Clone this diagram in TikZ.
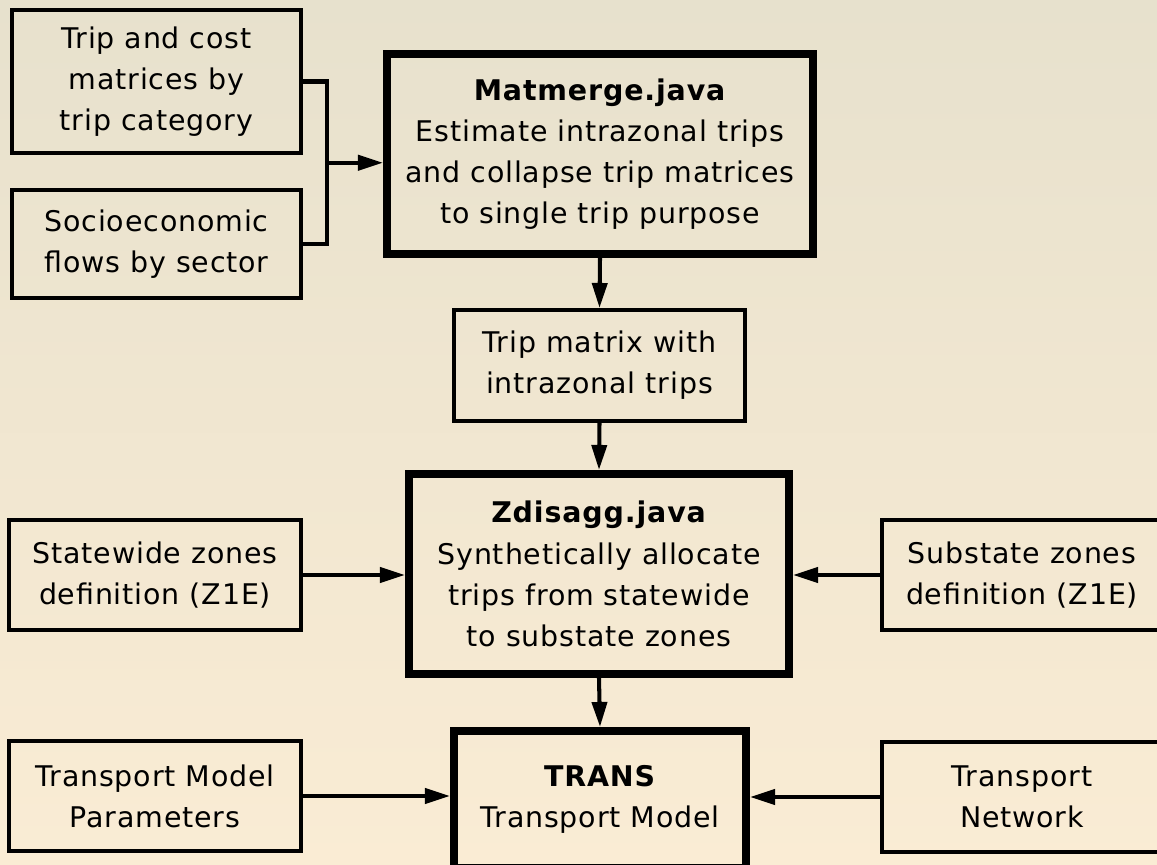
\documentclass[tikz,border=0pt]{standalone}
\usepackage{fontspec}
\setmainfont{DejaVu Sans}[LetterSpace=3]
\usetikzlibrary{calc,arrows.meta}
\definecolor{bgtop}{RGB}{231,225,205}
\definecolor{bgbot}{RGB}{250,236,212}

\begin{document}
\begin{tikzpicture}[
  box/.style={draw, rectangle, line width=2.3pt, inner sep=0pt, align=center, font=\fontsize{16.2}{23.4}\selectfont},
  bigbox/.style={box, line width=4.3pt},
  conn/.style={line width=2.3pt},
  arr/.style={conn, -{Triangle[length=0.5cm,width=0.3cm]}}
]
  \useasboundingbox (0,0) rectangle (23.14,17.3);
  \fill[top color=bgtop, bottom color=bgbot] (0,0) rectangle (23.14,17.3);

  % inputs of Matmerge
  \node[box, minimum width=5.78cm, minimum height=2.86cm] (tc) at (3.13,15.67) {Trip and cost\\matrices by\\trip category};
  \node[box, minimum width=5.78cm, minimum height=2.16cm] (se) at (3.13,12.42) {Socioeconomic\\flows by sector};

  % Matmerge
  \node[bigbox, minimum width=8.53cm, minimum height=4.01cm] (mm) at (12.0,14.22) {\textbf{Matmerge.java}\\Estimate intrazonal trips\\and collapse trip matrices\\to single trip purpose};

  % trip matrix
  \node[box, minimum width=5.82cm, minimum height=2.22cm] (tm) at (11.99,9.99) {Trip matrix with\\intrazonal trips};

  % Zdisagg
  \node[bigbox, minimum width=7.61cm, minimum height=4.01cm] (zd) at (11.98,5.82) {\textbf{Zdisagg.java}\\Synthetically allocate\\trips from statewide\\to substate zones};
  \node[box, minimum width=5.84cm, minimum height=2.2cm] (sw) at (3.10,5.80) {Statewide zones\\definition (Z1E)};
  \node[box, minimum width=5.6cm, minimum height=2.2cm] (ss) at (20.44,5.80) {Substate zones\\definition (Z1E)};

  % TRANS
  \node[bigbox, minimum width=5.85cm, minimum height=2.75cm] (tr) at (12.0,1.31) {\textbf{TRANS}\\Transport Model};
  \node[box, minimum width=5.84cm, minimum height=2.2cm] (tp) at (3.10,1.38) {Transport Model\\Parameters};
  \node[box, minimum width=5.6cm, minimum height=2.2cm] (tn) at (20.44,1.36) {Transport\\Network};

  % Connections
  \draw[conn] (tc.east) -- ++(0.48,0) |- (se.east);
  \coordinate (j) at ($(tc.east)!0.5!(se.east)+(0.48,0)$);
  \draw[arr] (j) -- (j -| mm.west);
  \draw[arr] (mm.south) -- (tm.north);
  \draw[arr] (tm.south) -- (zd.north);
  \draw[arr] (sw.east) -- (sw.east -| zd.west);
  \draw[arr] (ss.west) -- (ss.west -| zd.east);
  \draw[arr] (zd.south) -- (tr.north);
  \draw[arr] (tp.east) -- (tp.east -| tr.west);
  \draw[arr] (tn.west) -- (tn.west -| tr.east);
\end{tikzpicture}
\end{document}
